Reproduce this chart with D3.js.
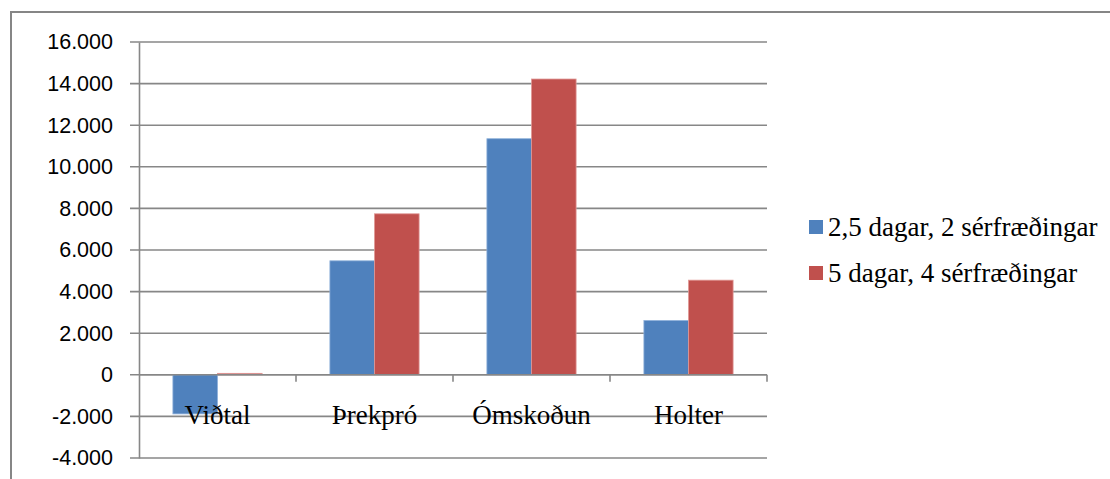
<!DOCTYPE html>
<html>
<head>
<meta charset="utf-8">
<script src="https://cdn.jsdelivr.net/npm/d3@7"></script>
<style>
  body { margin: 0; background: #fff; }
  svg { display: block; }
</style>
</head>
<body>
<div id="chart"></div>
<script>
const categories = ['Viðtal', 'Þrekpró', 'Ómskoðun', 'Holter'];
const seriesNames = ['2,5 dagar, 2 sérfræðingar', '5 dagar, 4 sérfræðingar'];
const seriesA = [-1880, 5480, 11350, 2610];
const seriesB = [70, 7740, 14220, 4550];
const yTicks = [-4000, -2000, 0, 2000, 4000, 6000, 8000, 10000, 12000, 14000, 16000];
const colors = ['#4f81bd', '#c0504d'];
const edges = ['#8eb0da', '#e09896'];

const W = 1110, H = 479;
const margin = { top: 42, left: 139 };
const plotW = 628, plotH = 416;

const isl = d3.formatLocale({ decimal: ',', thousands: '.', grouping: [3], currency: ['', ' kr.'], minus: '-' });
const fmt = isl.format(',d');

const svg = d3.select('#chart').append('svg')
    .attr('width', W)
    .attr('height', H);

// outer frame
svg.append('rect')
    .attr('x', 11).attr('y', 12)
    .attr('width', W + 20).attr('height', H + 20)
    .attr('fill', 'none')
    .attr('stroke', '#868686')
    .attr('stroke-width', 2);

const g = svg.append('g')
    .attr('transform', `translate(${margin.left},${margin.top})`);

const x0 = d3.scaleBand().domain(categories).range([0, plotW]);
const x1 = d3.scaleBand().domain(seriesNames).range([0, x0.bandwidth()])
    .paddingInner(0).paddingOuter(0.76);
const y = d3.scaleLinear().domain([-4000, 16000]).range([plotH, 0]);

// gridlines
g.append('g').selectAll('line')
    .data(yTicks)
    .enter().append('line')
    .attr('x1', -9).attr('x2', plotW)
    .attr('y1', d => y(d)).attr('y2', d => y(d))
    .attr('stroke', '#878787')
    .attr('stroke-width', 1.6);

// Y axis
const yAxis = g.append('g')
    .call(d3.axisLeft(y).tickValues(yTicks).tickSize(0).tickPadding(26).tickFormat(fmt));
yAxis.select('.domain').attr('stroke', '#878787').attr('stroke-width', 1.6);
yAxis.selectAll('text')
    .attr('fill', '#000')
    .style('font-family', '"Liberation Sans", Arial, sans-serif')
    .style('font-size', '21.5px');

// bars
const data = categories.map((c, i) => ({ cat: c, vals: [seriesA[i], seriesB[i]] }));
g.append('g').selectAll('g')
    .data(data)
    .enter().append('g')
    .attr('transform', d => `translate(${x0(d.cat)},0)`)
    .selectAll('rect')
    .data(d => d.vals.map((v, k) => ({ name: seriesNames[k], v, k })))
    .enter().append('rect')
    .attr('x', d => x1(d.name))
    .attr('width', x1.bandwidth())
    .attr('y', d => y(Math.max(0, d.v)))
    .attr('height', d => Math.abs(y(d.v) - y(0)))
    .attr('fill', d => colors[d.k])
    .attr('stroke', d => edges[d.k])
    .attr('stroke-width', 0.8);

// category axis on the zero line
const xAxis = g.append('g')
    .attr('transform', `translate(0,${y(0)})`);
xAxis.append('line')
    .attr('x1', 0).attr('x2', plotW)
    .attr('stroke', '#878787')
    .attr('stroke-width', 1.6);
const bounds = categories.map(c => x0(c) + x0.bandwidth());
xAxis.selectAll('.tick-b')
    .data(bounds)
    .enter().append('line')
    .attr('x1', d => d).attr('x2', d => d)
    .attr('y1', 0).attr('y2', 7)
    .attr('stroke', '#878787')
    .attr('stroke-width', 1.6);
xAxis.selectAll('.cat')
    .data(categories)
    .enter().append('text')
    .attr('x', d => x0(d) + x0.bandwidth() / 2)
    .attr('y', 49)
    .attr('text-anchor', 'middle')
    .style('font-family', '"Liberation Serif", "Times New Roman", serif')
    .style('font-size', '27px')
    .text(d => d);

// legend
const legend = svg.append('g')
    .attr('transform', 'translate(809,220)');
const items = legend.selectAll('g')
    .data(seriesNames)
    .enter().append('g')
    .attr('transform', (d, i) => `translate(0,${i * 46})`);
items.append('rect')
    .attr('width', 14).attr('height', 14)
    .attr('fill', (d, i) => colors[i]);
items.append('text')
    .attr('x', 19).attr('y', 16)
    .style('font-family', '"Liberation Serif", "Times New Roman", serif')
    .style('font-size', '27px')
    .text(d => d);
</script>
</body>
</html>
